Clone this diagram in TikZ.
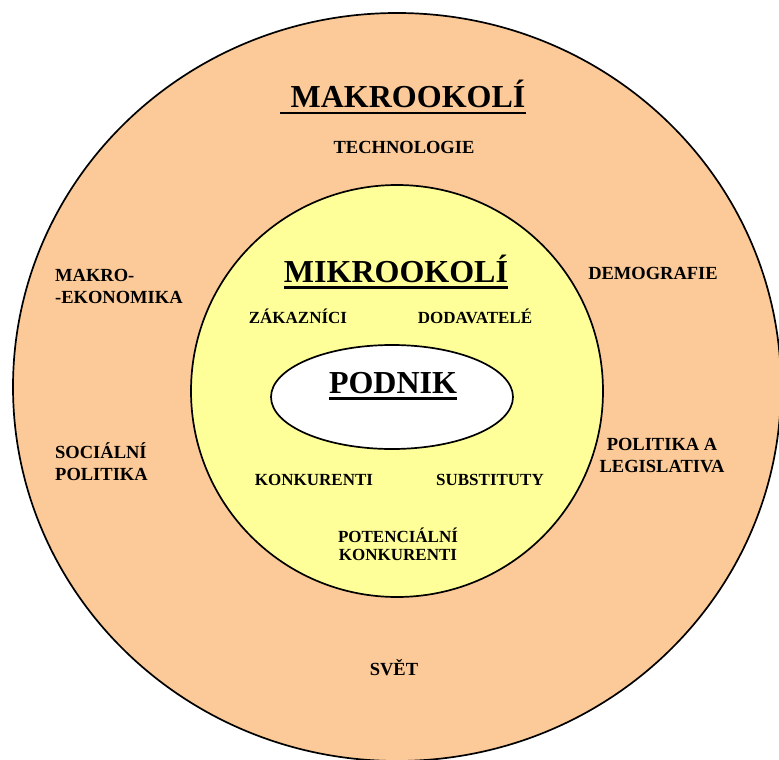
\documentclass[tikz,border=0pt]{standalone}
\usepackage{fontspec}
\setmainfont{Liberation Serif}
\usepackage{tikz}
\usetikzlibrary{calc}

\definecolor{makrofill}{RGB}{252,202,152}
\definecolor{mikrofill}{RGB}{255,255,153}

\tikzset{
	title/.style={font=\fontsize{32}{36}\selectfont\bfseries, inner sep=0pt},
	outlabel/.style={font=\fontsize{18.5}{21.5}\selectfont\bfseries, inner sep=0pt},
	inlabel/.style={font=\fontsize{17}{18}\selectfont\bfseries, inner sep=0pt},
	uline/.style={line width=2.6pt},
	ring/.style={draw=black, line width=1.7pt}
}

\begin{document}
\begin{tikzpicture}[x=1pt, y=-1pt]
				\useasboundingbox (0,0) rectangle (779,760);
				\clip (0,0) rectangle (779,760);
				
				% rings
				\draw[ring, fill=makrofill] (397,387) ellipse [x radius=384pt, y radius=374pt];
				\draw[ring, fill=mikrofill] (397,391) circle [radius=206pt];
				\draw[ring, fill=white] (392,397) ellipse [x radius=121pt, y radius=52pt];
				
				% titles
				\node[title, anchor=base] (makro) at (408,107) {MAKROOKOLÍ};
				\node[title, anchor=base] (mikro) at (396,282) {MIKROOKOLÍ};
				\node[title, anchor=base] (podnik) at (393,393) {PODNIK};
				
				% underlines
				\draw[uline] ($(makro.base west)+(-10,6)$) -- ($(makro.base east)+(0,6)$);
				\foreach \t in {mikro, podnik}
				\draw[uline] ($(\t.base west)+(0,5.5)$) -- ($(\t.base east)+(0,5.5)$);
				
				% makrookoli (base = last line)
				\node[outlabel, anchor=base] (tech) at (404,153) {TECHNOLOGIE};
				\node[outlabel, anchor=base west, align=left] (ekon) at (55,303) {MAKRO-\\-EKONOMIKA};
				\node[outlabel, anchor=base] (demo) at (653,279) {DEMOGRAFIE};
				\node[outlabel, anchor=base west, align=left] (soc) at (55,480) {SOCIÁLNÍ\\POLITIKA};
				\node[outlabel, anchor=base, align=center] (leg) at (662,472) {POLITIKA A\\LEGISLATIVA};
				\node[outlabel, anchor=base] (svet) at (394,675) {SVĚT};
				
				% mikrookoli
				\node[inlabel, anchor=base] (zak) at (298,323) {ZÁKAZNÍCI};
				\node[inlabel, anchor=base] (dod) at (475,323) {DODAVATELÉ};
				\node[inlabel, anchor=base] (konk) at (314,485) {KONKURENTI};
				\node[inlabel, anchor=base] (subst) at (490,485) {SUBSTITUTY};
				\node[inlabel, anchor=base, align=center] (pot) at (398,560) {POTENCIÁLNÍ\\KONKURENTI};
			\end{tikzpicture}
\end{document}
